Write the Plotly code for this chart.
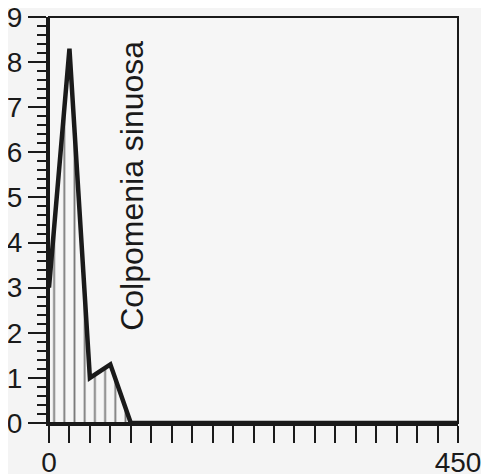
import plotly.graph_objects as go

# dados
dist = [0, 22.5, 45, 67.5, 90, 450]
cover = [3.0, 8.3, 1.0, 1.3, 0.0, 0.0]
species = "Colpomenia sinuosa"
x_tick_vals = [i * 22.5 for i in range(21)]
x_tick_text = ["0"] + [""] * 19 + ["450"]
y_tick_vals = list(range(10))

fig = go.Figure()
fig.add_trace(go.Scatter(
    x=dist,
    y=cover,
    mode="lines",
    line=dict(color="#1a1a1a", width=4.5),
    fill="tozeroy",
    fillcolor="rgba(0,0,0,0)",
    fillpattern=dict(shape="|", fgcolor="#000000", bgcolor="rgba(0,0,0,0)",
                     size=10.2, solidity=0.18),
    cliponaxis=False,
    showlegend=False,
))

fig.add_annotation(
    x=92, y=5.25, text=species, textangle=-90, showarrow=False,
    font=dict(size=32, color="#1a1a1a"),
)

# moldura fina em cima e à direita
fig.add_shape(type="rect", xref="paper", yref="paper", x0=0, y0=0, x1=1, y1=1,
              line=dict(color="#1a1a1a", width=2))

# a página tem margem de 8px no body, por isso a figura é menor
fig.update_layout(
    width=481, height=466,
    margin=dict(l=41, r=31, t=9, b=51),
    paper_bgcolor="#f4f4f4",
    plot_bgcolor="#f6f6f6",
    font=dict(family="Liberation Sans, Arial, sans-serif", size=28, color="#1a1a1a"),
    xaxis=dict(
        range=[0, 450], automargin=False, ticklabeloverflow="allow",
        tickmode="array", tickvals=x_tick_vals, ticktext=x_tick_text,
        ticks="outside", ticklen=17, tickwidth=2, tickcolor="#1a1a1a",
        showline=True, linewidth=3, linecolor="#1a1a1a",
        showgrid=False, zeroline=False, ticklabelstandoff=-5,
    ),
    yaxis=dict(
        range=[0, 9], automargin=False, ticklabeloverflow="allow",
        tickmode="array", tickvals=y_tick_vals,
        ticks="outside", ticklen=18, tickwidth=2, tickcolor="#1a1a1a",
        minor=dict(dtick=0.2, ticks="outside", ticklen=9, tickwidth=1.5,
                   tickcolor="#1a1a1a", showgrid=False),
        showline=True, linewidth=3, linecolor="#1a1a1a",
        showgrid=False, zeroline=False, ticklabelstandoff=0,
    ),
)

fig.write_html("out.html")
